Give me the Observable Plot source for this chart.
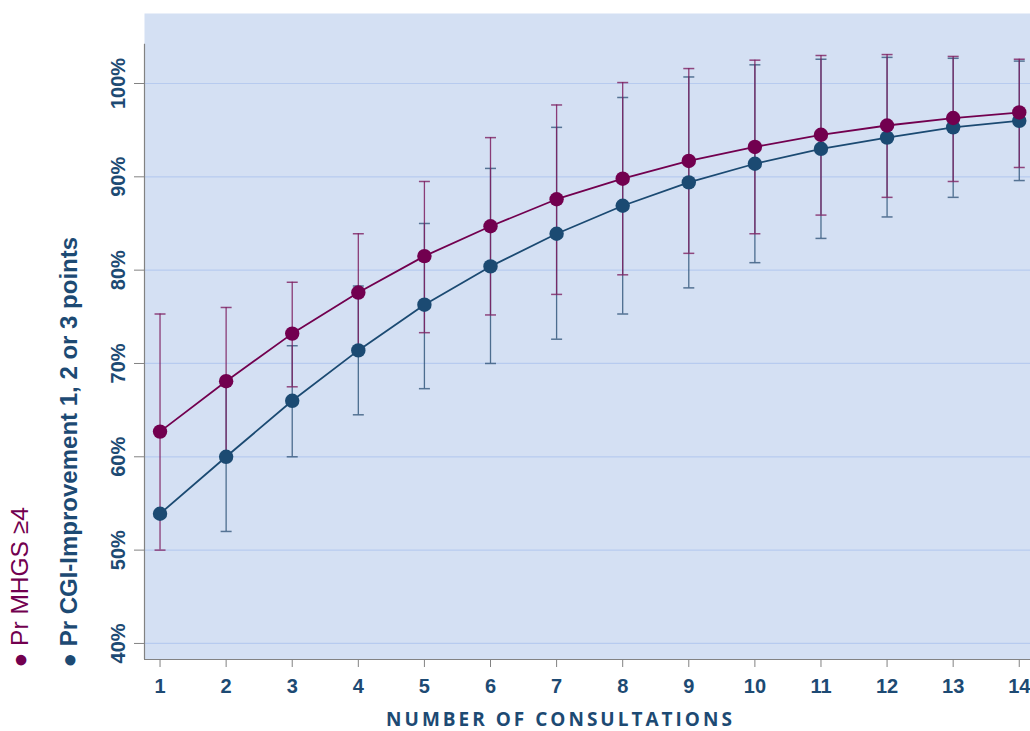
<!DOCTYPE html>
<html><head><meta charset="utf-8">
<script src="https://cdn.jsdelivr.net/npm/d3@7"></script>
<script src="https://cdn.jsdelivr.net/npm/@observablehq/plot@0.6"></script>
<style>html,body{margin:0;padding:0;background:#fff}#chart svg{display:block}</style>
</head><body><div id="chart"></div>
<script>
// ---- data ----
const consultations = [1,2,3,4,5,6,7,8,9,10,11,12,13,14];
const mhgs   = [62.7, 68.1, 73.2, 77.6, 81.5, 84.7, 87.6, 89.8, 91.7, 93.2, 94.5, 95.5, 96.3, 96.9];
const mhgsLo = [50.0, 60.3, 67.5, 71.3, 73.3, 75.2, 77.4, 79.5, 81.8, 83.9, 85.9, 87.8, 89.5, 91.0];
const mhgsHi = [75.3, 76.0, 78.7, 83.9, 89.5, 94.2, 97.7, 100.1, 101.6, 102.5, 103.0, 103.1, 102.9, 102.6];
const cgi    = [53.9, 60.0, 66.0, 71.4, 76.3, 80.4, 83.9, 86.9, 89.4, 91.4, 93.0, 94.2, 95.3, 96.0];
const cgiLo  = [null, 52.0, 60.0, 64.5, 67.3, 70.0, 72.6, 75.3, 78.1, 80.8, 83.4, 85.7, 87.8, 89.6];
const cgiHi  = [null, 68.0, 71.9, 78.3, 85.0, 90.9, 95.3, 98.5, 100.7, 102.0, 102.6, 102.8, 102.7, 102.4];
const yTicks = [40, 50, 60, 70, 80, 90, 100];
const xTicks = consultations;
const seriesNames = ["Pr MHGS ≥4", "Pr CGI-Improvement 1, 2 or 3 points"];
const axisTitle = "NUMBER OF CONSULTATIONS";

// ---- build tables ----
const mhgsRows = consultations.map((c, i) => ({x: c, y: mhgs[i], lo: mhgsLo[i], hi: mhgsHi[i]}));
const cgiRows  = consultations.map((c, i) => ({x: c, y: cgi[i], lo: cgiLo[i], hi: cgiHi[i]}));
const cgiBars  = cgiRows.filter(d => d.lo != null);

const PURPLE = "#72004f", BLUE = "#1b4a72", TEXT = "#1d4a73", AXIS = "#828282";
const PURPLE_BAR = "#7d1f60", BLUE_BAR = "#34587c";
const xDomain = [0.765, 14.17];
const yDomain = [38.28, 107.5];
const axisTop = 104.2;

const cap = {draw(ctx, size) { const w = Math.sqrt(size / Math.PI); ctx.moveTo(-w, 0); ctx.lineTo(w, 0); }};

function bars(rows, color) {
  return [
    Plot.ruleX(rows, {x: "x", y1: "lo", y2: "hi", stroke: color, strokeWidth: 1.3, strokeOpacity: 0.85}),
    Plot.dot(rows, {x: "x", y: "lo", symbol: cap, r: 5.5, stroke: color, strokeWidth: 1.5, strokeOpacity: 0.8}),
    Plot.dot(rows, {x: "x", y: "hi", symbol: cap, r: 5.5, stroke: color, strokeWidth: 1.5, strokeOpacity: 0.8})
  ];
}

const chart = Plot.plot({
  width: 1030,
  height: 731,
  marginLeft: 144,
  marginRight: 0,
  marginTop: 13,
  marginBottom: 72,
  style: {fontFamily: "'Liberation Sans', Arial, sans-serif", background: "#fff", overflow: "visible"},
  x: {type: "linear", domain: xDomain},
  y: {type: "linear", domain: yDomain},
  marks: [
    Plot.frame({fill: "#d4e0f3", stroke: null}),
    Plot.gridY(yTicks, {stroke: "#b7cbef", strokeOpacity: 1, strokeWidth: 1.2}),
    Plot.ruleY([yDomain[0]], {stroke: AXIS, strokeWidth: 1.2}),
    Plot.ruleX([xDomain[0]], {y1: yDomain[0], y2: axisTop, stroke: AXIS, strokeWidth: 1.2}),
    Plot.axisY(yTicks, {tickSize: 10, tickFormat: () => "", stroke: AXIS, label: null}),
    Plot.text(yTicks, {y: d => d, text: d => d + "%", frameAnchor: "left", dx: -26, rotate: -90,
      textAnchor: "middle", lineAnchor: "middle", fontSize: 20, fontWeight: "bold", fill: TEXT}),
    Plot.axisX(xTicks, {tickSize: 8, tickPadding: 11, fontSize: 20, fontWeight: "bold",
      stroke: AXIS, fill: TEXT, label: null}),
    ...bars(cgiBars, BLUE_BAR),
    ...bars(mhgsRows, PURPLE_BAR),
    Plot.line(cgiRows, {x: "x", y: "y", stroke: BLUE, strokeWidth: 1.8}),
    Plot.line(mhgsRows, {x: "x", y: "y", stroke: PURPLE, strokeWidth: 1.8}),
    Plot.dot(cgiRows, {x: "x", y: "y", r: 7.2, fill: BLUE}),
    Plot.dot(mhgsRows, {x: "x", y: "y", r: 7.2, fill: PURPLE}),
    Plot.text([seriesNames[0]], {text: d => "● " + d, frameAnchor: "bottom-left", dx: -124, dy: 8,
      rotate: -90, textAnchor: "start", lineAnchor: "middle", fontSize: 24.5, fill: PURPLE}),
    Plot.text([seriesNames[1]], {text: d => "● " + d, frameAnchor: "bottom-left", dx: -75, dy: 8,
      rotate: -90, textAnchor: "start", lineAnchor: "middle", fontSize: 24, fontWeight: "bold", fill: TEXT}),
    Plot.text([axisTitle], {frameAnchor: "bottom", dx: -27, dy: 60, lineAnchor: "middle",
      fontFamily: "'Open Sans', sans-serif", fontWeight: "bold", fontSize: 19, fill: TEXT})
  ]
});
d3.select(chart).selectAll("text").filter(function() { return this.textContent === axisTitle; })
  .attr("letter-spacing", "3px");
document.getElementById("chart").append(chart);
</script>
</body></html>
